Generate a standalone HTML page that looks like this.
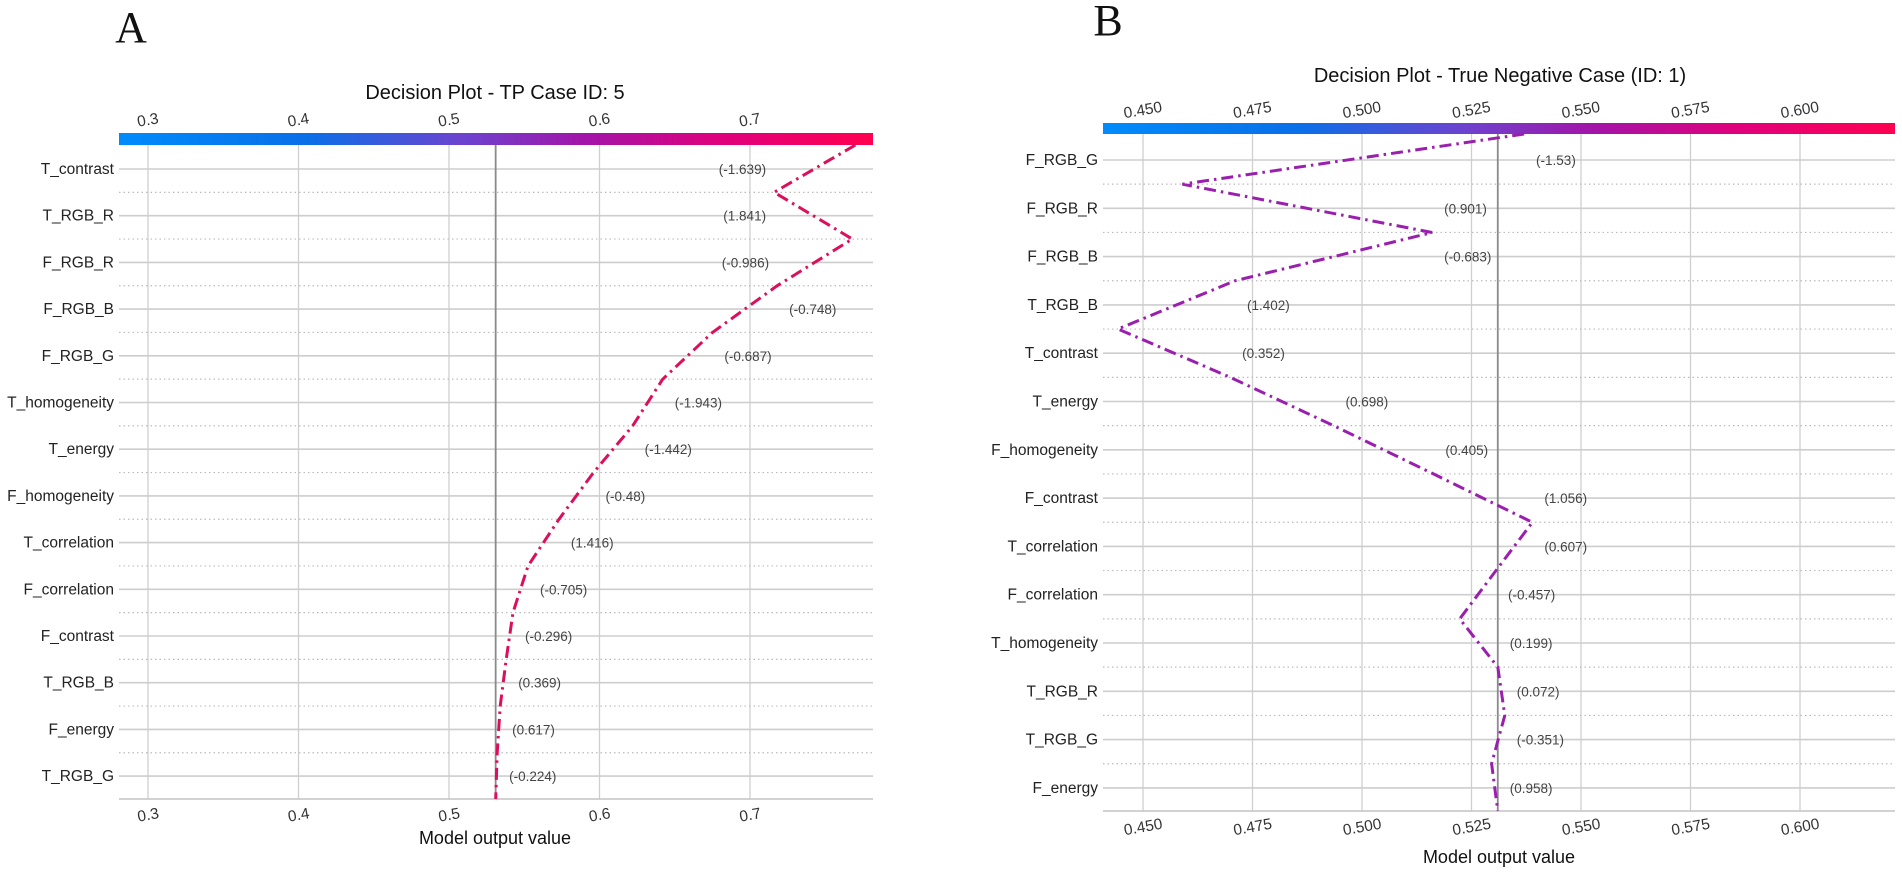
<!DOCTYPE html>
<html><head><meta charset="utf-8">
<style>
html,body{margin:0;padding:0;background:#fff;}
svg{display:block;font-family:"Liberation Sans",Arial,sans-serif;}
</style></head>
<body>
<svg id="chart" width="1902" height="874" viewBox="0 0 1902 874" xmlns="http://www.w3.org/2000/svg">
<defs>
<linearGradient id="cmap" x1="0" x2="1" y1="0" y2="0">
<stop offset="0" stop-color="#008bfb"/>
<stop offset="0.25" stop-color="#0a6fe8"/>
<stop offset="0.45" stop-color="#6a44d0"/>
<stop offset="0.62" stop-color="#a314a8"/>
<stop offset="0.8" stop-color="#e0007c"/>
<stop offset="1" stop-color="#ff0051"/>
</linearGradient>
</defs>
<text x="131" y="42" font-family="Liberation Serif, serif" font-size="44" text-anchor="middle" fill="#111">A</text>
<text x="1108" y="35" font-family="Liberation Serif, serif" font-size="44" text-anchor="middle" fill="#111">B</text>
</svg>
<script>
// ---- Panel A data ----
const featuresA = ["T_contrast","T_RGB_R","F_RGB_R","F_RGB_B","F_RGB_G","T_homogeneity","T_energy","F_homogeneity","T_correlation","F_correlation","F_contrast","T_RGB_B","F_energy","T_RGB_G"];
const featureValuesA = ["(-1.639)","(1.841)","(-0.986)","(-0.748)","(-0.687)","(-1.943)","(-1.442)","(-0.48)","(1.416)","(-0.705)","(-0.296)","(0.369)","(0.617)","(-0.224)"];
const cumulativeA = [0.770,0.716,0.768,0.718,0.675,0.642,0.622,0.596,0.573,0.5525,0.5425,0.538,0.534,0.532,0.531];
const ticksA = [0.3,0.4,0.5,0.6,0.7];
const tickLabelsA = ["0.3","0.4","0.5","0.6","0.7"];
const baseValueA = 0.531;
// ---- Panel B data ----
const featuresB = ["F_RGB_G","F_RGB_R","F_RGB_B","T_RGB_B","T_contrast","T_energy","F_homogeneity","F_contrast","T_correlation","F_correlation","T_homogeneity","T_RGB_R","T_RGB_G","F_energy"];
const featureValuesB = ["(-1.53)","(0.901)","(-0.683)","(1.402)","(0.352)","(0.698)","(0.405)","(1.056)","(0.607)","(-0.457)","(0.199)","(0.072)","(-0.351)","(0.958)"];
const cumulativeB = [0.537,0.459,0.516,0.471,0.4443,0.4699,0.4935,0.5163,0.5389,0.5306,0.5223,0.531,0.5326,0.5296,0.531];
const ticksB = [0.45,0.475,0.5,0.525,0.55,0.575,0.6];
const tickLabelsB = ["0.450","0.475","0.500","0.525","0.550","0.575","0.600"];
const baseValueB = 0.531;

const NS="http://www.w3.org/2000/svg";
const svg=document.getElementById('chart');
function mk(tag,attrs,parent){const e=document.createElementNS(NS,tag);for(const k in attrs)e.setAttribute(k,attrs[k]);(parent||svg).appendChild(e);return e;}

function drawPanel(p){
  const g=mk('g',{});
  
  
  const xs=v=>p.x0+(v-p.v0)*p.k;
  const n=p.features.length;
  const rowY=i=>p.row0+p.step*i;
  const bY=i=>i===0?p.top:(i===n?p.bottom:rowY(i-1)+p.step/2);
  const t=mk('text',{x:p.titleX,y:p.titleY,'font-size':20,'text-anchor':'middle',fill:'#111'},g);
  t.textContent=p.title;
  
  
  const cb=mk('rect',{x:p.left,y:p.cbTop,width:p.right-p.left,height:p.top-p.cbTop,fill:'url(#cmap)'},g);
  
  
  p.ticks.forEach((v,i)=>{
    const x=xs(v);
    const gl=mk('line',{x1:x,x2:x,y1:p.top,y2:p.bottom,stroke:'#cfcfcf','stroke-width':1.3},g);
    
    
    const tt=mk('text',{x:x,y:p.cbTop-8,'font-size':15.5,'text-anchor':'middle',fill:'#333',transform:`rotate(-10 ${x} ${p.cbTop-12})`},g);
    tt.textContent=p.tickLabels[i];
    
    
    const bt=mk('text',{x:x,y:p.bottom+21,'font-size':15.5,'text-anchor':'middle',fill:'#333',transform:`rotate(-10 ${x} ${p.bottom+15})`},g);
    bt.textContent=p.tickLabels[i];
    
    
  });
  for(let i=0;i<n;i++){
    const y=rowY(i);
    const hl=mk('line',{x1:p.left,x2:p.right,y1:y,y2:y,stroke:'#cdcdcd','stroke-width':1.6},g);
    
    
    const yl=mk('text',{x:p.left-5,y:y+5,'font-size':15.5,'text-anchor':'end',fill:'#222'},g);
    yl.textContent=p.features[i];
    
    
  }
  for(let i=1;i<n;i++){
    const y=bY(i);
    const dl=mk('line',{x1:p.left,x2:p.right,y1:y,y2:y,stroke:'#bcbcbc','stroke-width':1.2,'stroke-dasharray':'1.5 3'},g);
    
    
  }
  const ax=mk('line',{x1:p.left,x2:p.right,y1:p.bottom,y2:p.bottom,stroke:'#c4c4c4','stroke-width':1.6},g);
  
  
  const bx=xs(p.base);
  const bl=mk('line',{x1:bx,x2:bx,y1:p.top,y2:p.bottom,stroke:'#8a8a8a','stroke-width':1.8},g);
  
  
  const pts=p.cum.map((v,i)=>xs(v).toFixed(1)+','+bY(i).toFixed(1)).join(' ');
  const pl=mk('polyline',{points:pts,fill:'none',stroke:p.color,'stroke-width':3,'stroke-dasharray':'12 5 2.5 5','stroke-linejoin':'miter'},g);
  
  
  for(let i=0;i<n;i++){
    const a=xs(p.cum[i]),b=xs(p.cum[i+1]);
    const mx=Math.max(a,b),mn=Math.min(a,b);
    const w=p.vals[i].length*7;
    let x,anchor;
    if(mx+12+w<=p.right){x=mx+12;anchor='start';}else{x=mn-8;anchor='end';}
    const vl=mk('text',{x:x,y:rowY(i)+5,'font-size':13.5,'text-anchor':anchor,fill:'#444'},g);
    vl.textContent=p.vals[i];
    
    
  }
  const xl=mk('text',{x:p.xlabelX,y:p.xlabelY,'font-size':18,'text-anchor':'middle',fill:'#111'},g);
  xl.textContent='Model output value';
  
  
}

drawPanel({name:'panel-a-decision-plot',title:'Decision Plot - TP Case ID: 5',titleX:495,titleY:99,
  features:featuresA,vals:featureValuesA,cum:cumulativeA,ticks:ticksA,tickLabels:tickLabelsA,base:baseValueA,
  x0:449,v0:0.5,k:1505,left:119,right:873,cbTop:133,top:145,bottom:799,row0:169,step:46.7,
  color:'#dc0f5c',xlabelX:495,xlabelY:844});
drawPanel({name:'panel-b-decision-plot',title:'Decision Plot - True Negative Case (ID: 1)',titleX:1500,titleY:82,
  features:featuresB,vals:featureValuesB,cum:cumulativeB,ticks:ticksB,tickLabels:tickLabelsB,base:baseValueB,
  x0:1581,v0:0.55,k:4380,left:1103,right:1895,cbTop:123,top:134,bottom:811,row0:160,step:48.3,
  color:'#9a1fae',xlabelX:1499,xlabelY:863});
</script>
</body></html>
